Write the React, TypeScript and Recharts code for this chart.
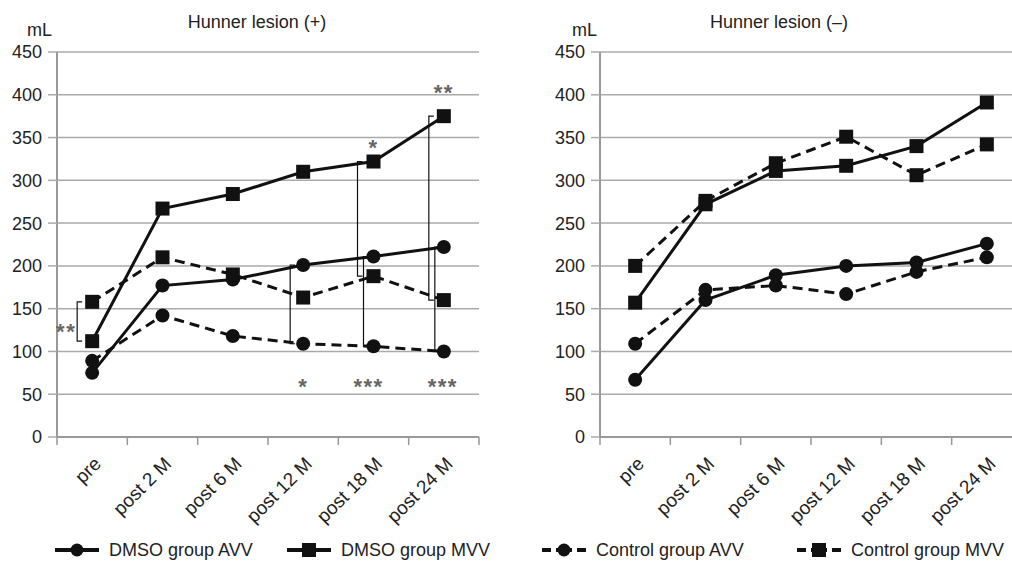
import React from "react";
import {
  LineChart,
  Line,
  XAxis,
  YAxis,
  CartesianGrid,
  ReferenceLine,
  ReferenceDot,
} from "recharts";

const categories = ["pre", "post 2 M", "post 6 M", "post 12 M", "post 18 M", "post 24 M"];
const yTicks = [0, 50, 100, 150, 200, 250, 300, 350, 400, 450];

// Hunner lesion (+)
const posDmsoAvv = [75, 177, 184, 201, 211, 222];
const posDmsoMvv = [112, 267, 284, 310, 322, 375];
const posCtrlAvv = [89, 142, 118, 109, 106, 100];
const posCtrlMvv = [158, 210, 190, 163, 188, 160];

// Hunner lesion (-)
const negDmsoAvv = [67, 160, 189, 200, 204, 226];
const negDmsoMvv = [157, 272, 311, 317, 340, 391];
const negCtrlAvv = [109, 172, 177, 167, 193, 210];
const negCtrlMvv = [200, 276, 320, 351, 306, 342];

// significance brackets (left panel): category, upper value, lower value
const brackets = [
  { cat: "pre", from: 158, to: 112, dx: -15 },
  { cat: "post 12 M", from: 201, to: 109, dx: -13 },
  { cat: "post 18 M", from: 322, to: 188, dx: -16 },
  { cat: "post 18 M", from: 211, to: 106, dx: -10 },
  { cat: "post 24 M", from: 375, to: 160, dx: -15 },
  { cat: "post 24 M", from: 222, to: 100, dx: -9 },
];

const stars = [
  { cat: "pre", y: 130, text: "**", dx: -26 },
  { cat: "post 12 M", y: 66, text: "*", dx: 0 },
  { cat: "post 18 M", y: 345, text: "*", dx: 0 },
  { cat: "post 18 M", y: 66, text: "***", dx: -5 },
  { cat: "post 24 M", y: 409, text: "**", dx: 0 },
  { cat: "post 24 M", y: 66, text: "***", dx: -1 },
];

const series = [
  { key: "dmsoAvv", name: "DMSO group AVV", dashed: false, shape: "circle" },
  { key: "dmsoMvv", name: "DMSO group MVV", dashed: false, shape: "square" },
  { key: "ctrlAvv", name: "Control group AVV", dashed: true, shape: "circle" },
  { key: "ctrlMvv", name: "Control group MVV", dashed: true, shape: "square" },
];

const FONT = '"Liberation Sans", Arial, sans-serif';
const INK = "#111";
const GRID = "#aaa";
const PLOT_W = 422;
const BAND = PLOT_W / categories.length;
const LEGEND_X = [55, 287, 542, 797];

const makeRows = (a: number[], b: number[], c: number[], d: number[]) =>
  categories.map((cat, i) => ({ cat, dmsoAvv: a[i], dmsoMvv: b[i], ctrlAvv: c[i], ctrlMvv: d[i] }));

const posData = makeRows(posDmsoAvv, posDmsoMvv, posCtrlAvv, posCtrlMvv);
const negData = makeRows(negDmsoAvv, negDmsoMvv, negCtrlAvv, negCtrlMvv);

const XTick = (props: any) => {
  const { x, y, payload } = props;
  const half = BAND / 2;
  const last = payload.value === categories[categories.length - 1];
  const tx = x + 10;
  const ty = y + 28;
  return (
    <g>
      <line x1={x - half} y1={y} x2={x - half} y2={y + 8} stroke="#999" strokeWidth={1.5} />
      {last && <line x1={x + half} y1={y} x2={x + half} y2={y + 8} stroke="#999" strokeWidth={1.5} />}
      <text
        x={tx}
        y={ty}
        textAnchor="end"
        transform={`rotate(-45 ${tx} ${ty})`}
        fontSize={19}
        fontFamily={FONT}
        fill="#222"
      >
        {payload.value}
      </text>
    </g>
  );
};

const squareDot = (p: any) => (
  <rect key={`sq-${p.index}`} x={p.cx - 7} y={p.cy - 7} width={14} height={14} fill={INK} />
);

const Panel = ({ data, withMarks }: { data: any[]; withMarks: boolean }) => (
  <LineChart width={490} height={530} data={data} margin={{ top: 52, right: 11, bottom: 0, left: 0 }}>
    <CartesianGrid vertical={false} stroke={GRID} strokeWidth={1.5} />
    <XAxis
      dataKey="cat"
      padding={{ left: BAND / 2, right: BAND / 2 }}
      tickLine={false}
      tickSize={0}
      tickMargin={0}
      height={93}
      interval={0}
      axisLine={{ stroke: "#999", strokeWidth: 2 }}
      tick={<XTick />}
    />
    <YAxis
      width={57}
      domain={[0, 450]}
      ticks={yTicks}
      tickSize={9}
      tickMargin={6}
      axisLine={{ stroke: "#999", strokeWidth: 2 }}
      tickLine={{ stroke: GRID, strokeWidth: 1.5 }}
      tick={{ fontSize: 18, fontFamily: FONT, fill: "#222" }}
    />
    {series.map((s) => (
      <Line
        key={s.key}
        dataKey={s.key}
        stroke={INK}
        strokeWidth={3}
        strokeDasharray={s.dashed ? "10 6" : undefined}
        dot={s.shape === "square" ? squareDot : { r: 7, fill: INK, stroke: INK, strokeWidth: 0 }}
        isAnimationActive={false}
      />
    ))}
    {withMarks &&
      brackets.map((b, i) => (
        <ReferenceLine
          key={`br-${i}`}
          segment={[
            { x: b.cat, y: b.from },
            { x: b.cat, y: b.to },
          ]}
          shape={(p: any) => {
            const bx = p.x1 + b.dx;
            return (
              <path
                d={`M${bx + 5},${p.y1} H${bx} V${p.y2} H${bx + 5}`}
                fill="none"
                stroke={INK}
                strokeWidth={1.2}
              />
            );
          }}
        />
      ))}
    {withMarks &&
      stars.map((s, i) => (
        <ReferenceDot
          key={`st-${i}`}
          x={s.cat}
          y={s.y}
          r={0}
          shape={(p: any) => (
            <text
              x={p.cx + s.dx}
              y={p.cy + 13}
              textAnchor="middle"
              fontSize={22}
              fontWeight="bold"
              letterSpacing={1.5}
              fontFamily={FONT}
              fill="#666"
            >
              {s.text}
            </text>
          )}
        />
      ))}
  </LineChart>
);

const textStyle: React.CSSProperties = {
  position: "absolute",
  fontFamily: FONT,
  fontSize: 18,
  lineHeight: "20px",
  color: "#222",
  whiteSpace: "nowrap",
};

export default function App() {
  return (
    <div
      style={{
        position: "absolute",
        left: 0,
        top: 0,
        width: 1012,
        height: 562,
        overflow: "hidden",
        background: "#fff",
      }}
    >
      <div style={{ position: "absolute", left: 0, top: 0 }}>
        <Panel data={posData} withMarks={true} />
      </div>
      <div style={{ position: "absolute", left: 543, top: 0 }}>
        <Panel data={negData} withMarks={false} />
      </div>
      <div style={{ ...textStyle, left: 257, top: 12, transform: "translateX(-50%)" }}>Hunner lesion (+)</div>
      <div style={{ ...textStyle, left: 779, top: 12, transform: "translateX(-50%)" }}>Hunner lesion (–)</div>
      <div style={{ ...textStyle, left: 27, top: 20 }}>mL</div>
      <div style={{ ...textStyle, left: 572, top: 20 }}>mL</div>
      <svg style={{ position: "absolute", left: 0, top: 530 }} width={1012} height={32}>
        {series.map((s, i) => {
          const x0 = LEGEND_X[i];
          const cx = x0 + 22;
          return (
            <g key={s.key}>
              {s.dashed ? (
                <>
                  <line x1={x0} y1={20} x2={x0 + 9} y2={20} stroke={INK} strokeWidth={4} />
                  <line x1={x0 + 14} y1={20} x2={x0 + 30} y2={20} stroke={INK} strokeWidth={4} />
                  <line x1={x0 + 35} y1={20} x2={x0 + 44} y2={20} stroke={INK} strokeWidth={4} />
                </>
              ) : (
                <line x1={x0} y1={20} x2={x0 + 44} y2={20} stroke={INK} strokeWidth={4} />
              )}
              {s.shape === "circle" ? (
                <circle cx={cx} cy={20} r={6.5} fill={INK} />
              ) : (
                <rect x={cx - 7} y={13} width={14} height={14} fill={INK} />
              )}
              <text x={x0 + 54} y={26} fontSize={18} fontFamily={FONT} fill="#222">
                {s.name}
              </text>
            </g>
          );
        })}
      </svg>
    </div>
  );
}
